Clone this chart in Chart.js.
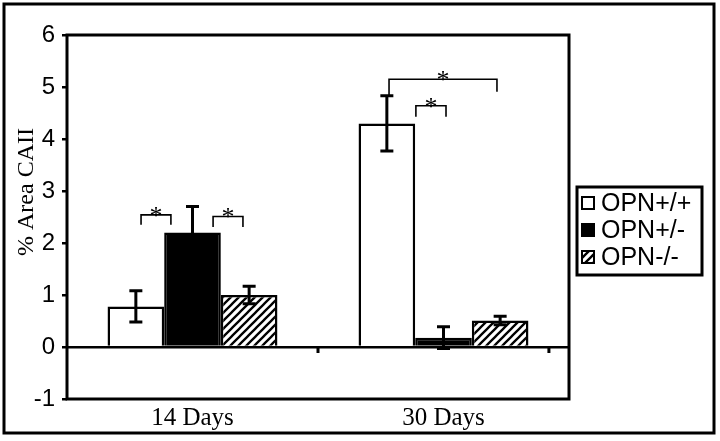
<!DOCTYPE html>
<html>
<head>
<meta charset="utf-8">
<script src="https://cdn.jsdelivr.net/npm/chart.js@4.4.1/dist/chart.umd.min.js"></script>
<style>
  html, body { margin: 0; padding: 0; background: #fff; }
  #wrap { width: 720px; height: 441px; }
</style>
</head>
<body>
<div id="wrap"><canvas id="chart" width="720" height="441"></canvas></div>
<script>
// data
const categories = ['14 Days', '30 Days'];
const seriesNames = ['OPN+/+', 'OPN+/-', 'OPN-/-'];
const wildType = [0.78, 4.3];
const heterozygous = [2.2, 0.18];
const knockout = [1.0, 0.51];
const wildTypeErr = [0.3, 0.53];
const heterozygousErr = [0.5, 0.21];
const knockoutErr = [0.17, 0.08];
const yTicks = [-1, 0, 1, 2, 3, 4, 5, 6];
const yTitle = '% Area CAII';

// significance brackets (x in category units, y in data units)
const bracketFrom = [-0.205, 0.082, 0.783, 0.890];
const bracketTo = [-0.086, 0.201, 1.213, 1.010];
const bracketTop = [2.54, 2.51, 5.15, 4.64];
const bracketLeftEnd = [2.35, 2.31, 4.84, 4.43];
const bracketRightEnd = [2.35, 2.31, 4.91, 4.43];
const bracketMark = ['*', '*', '*', '*'];

// small tick marks hanging under the zero line
const zeroTicks = [0.5, 1.42];

function makeHatch() {
    const p = document.createElement('canvas');
    p.width = 8;
    p.height = 8;
    const g = p.getContext('2d');
    g.fillStyle = '#fff';
    g.fillRect(0, 0, 8, 8);
    g.strokeStyle = '#000';
    g.lineWidth = 2.3;
    g.beginPath();
    g.moveTo(-1, 9); g.lineTo(9, -1);
    g.moveTo(-5, 5); g.lineTo(5, -5);
    g.moveTo(3, 13); g.lineTo(13, 3);
    g.stroke();
    return g.createPattern(p, 'repeat');
}
const hatch = makeHatch();

const errorBars = {
    id: 'errorBars',
    afterDatasetsDraw(chart) {
        const ctx = chart.ctx;
        const y = chart.scales.y;
        ctx.save();
        ctx.strokeStyle = '#000';
        ctx.lineWidth = 3;
        chart.data.datasets.forEach((ds, i) => {
            chart.getDatasetMeta(i).data.forEach((bar, j) => {
                const v = ds.data[j], e = ds.errors[j];
                const top = y.getPixelForValue(v + e);
                const bot = y.getPixelForValue(v - e);
                ctx.beginPath();
                ctx.moveTo(bar.x, top); ctx.lineTo(bar.x, bot);
                ctx.moveTo(bar.x - 6.5, top); ctx.lineTo(bar.x + 6.5, top);
                ctx.moveTo(bar.x - 6.5, bot); ctx.lineTo(bar.x + 6.5, bot);
                ctx.stroke();
            });
        });
        ctx.restore();
    }
};

const decorations = {
    id: 'decorations',
    afterDraw(chart) {
        const ctx = chart.ctx;
        const a = chart.chartArea;
        const x = chart.scales.x, y = chart.scales.y;
        ctx.save();

        // plot frame
        ctx.strokeStyle = '#000';
        ctx.lineWidth = 3;
        ctx.strokeRect(a.left, a.top, a.right - a.left, a.bottom - a.top);

        // ticks under zero line
        const y0 = y.getPixelForValue(0);
        ctx.beginPath();
        zeroTicks.forEach(t => {
            const px = x.getPixelForValue(t);
            ctx.moveTo(px, y0); ctx.lineTo(px, y0 + 6);
        });
        ctx.stroke();

        // significance brackets
        ctx.lineWidth = 1.6;
        ctx.font = '26px "Liberation Serif"';
        ctx.textAlign = 'center';
        ctx.textBaseline = 'alphabetic';
        ctx.fillStyle = '#000';
        bracketFrom.forEach((f, i) => {
            const x1 = x.getPixelForValue(f), x2 = x.getPixelForValue(bracketTo[i]);
            const t = y.getPixelForValue(bracketTop[i]);
            ctx.beginPath();
            ctx.moveTo(x1, y.getPixelForValue(bracketLeftEnd[i]));
            ctx.lineTo(x1, t);
            ctx.lineTo(x2, t);
            ctx.lineTo(x2, y.getPixelForValue(bracketRightEnd[i]));
            ctx.stroke();
            ctx.fillText(bracketMark[i], (x1 + x2) / 2, t + 9);
        });

        // y axis title
        ctx.save();
        ctx.translate(33, 192);
        ctx.rotate(-Math.PI / 2);
        ctx.font = '24px "Liberation Serif"';
        ctx.textBaseline = 'alphabetic';
        ctx.fillText(yTitle, 0, 0);
        ctx.restore();

        // legend
        const lx = a.right + 8, ly = 187, lw = 125, lh = 88;
        ctx.lineWidth = 3;
        ctx.strokeRect(lx, ly, lw, lh);
        ctx.font = '25px "Liberation Sans"';
        ctx.textAlign = 'left';
        ctx.textBaseline = 'middle';
        chart.data.datasets.forEach((ds, i) => {
            const cy = ly + 16 + i * 27;
            ctx.fillStyle = ds.backgroundColor;
            ctx.fillRect(lx + 5, cy - 6, 12, 12);
            ctx.lineWidth = 2;
            ctx.strokeRect(lx + 5, cy - 6, 12, 12);
            ctx.fillStyle = '#000';
            ctx.fillText(ds.label, lx + 24, cy + 1);
        });

        // outer border
        ctx.lineWidth = 3;
        ctx.strokeRect(4, 4, 710, 429);
        ctx.restore();
    }
};

const barStyle = {
    borderColor: '#000',
    borderWidth: 2.5,
    barPercentage: 1,
    categoryPercentage: 0.677
};

new Chart(document.getElementById('chart'), {
    type: 'bar',
    data: {
        labels: categories,
        datasets: [
            { label: seriesNames[0], data: wildType, errors: wildTypeErr, backgroundColor: '#fff', ...barStyle },
            { label: seriesNames[1], data: heterozygous, errors: heterozygousErr, backgroundColor: '#000', ...barStyle },
            { label: seriesNames[2], data: knockout, errors: knockoutErr, backgroundColor: hatch, ...barStyle }
        ]
    },
    options: {
        responsive: false,
        animation: false,
        layout: { padding: { left: 0, top: 35, right: 151, bottom: 0 } },
        plugins: {
            legend: { display: false },
            tooltip: { enabled: false }
        },
        scales: {
            x: {
                grid: { display: false, drawTicks: false },
                border: { display: false },
                ticks: {
                    color: '#000',
                    padding: 4,
                    font: { family: 'Liberation Serif', size: 25 }
                },
                afterFit: s => { s.height = 42; }
            },
            y: {
                min: -1,
                max: 6,
                afterBuildTicks: s => { s.ticks = yTicks.map(v => ({ value: v })); },
                border: { display: false },
                grid: {
                    drawTicks: true,
                    tickLength: 5,
                    lineWidth: 2.5,
                    tickColor: '#000',
                    color: c => (c.tick && c.tick.value === 0 ? '#000' : 'rgba(0,0,0,0)')
                },
                ticks: {
                    color: '#000',
                    padding: 7,
                    font: { family: 'Liberation Sans', size: 24 }
                },
                afterFit: s => { s.width = 67; }
            }
        }
    },
    plugins: [errorBars, decorations]
});
</script>
</body>
</html>
